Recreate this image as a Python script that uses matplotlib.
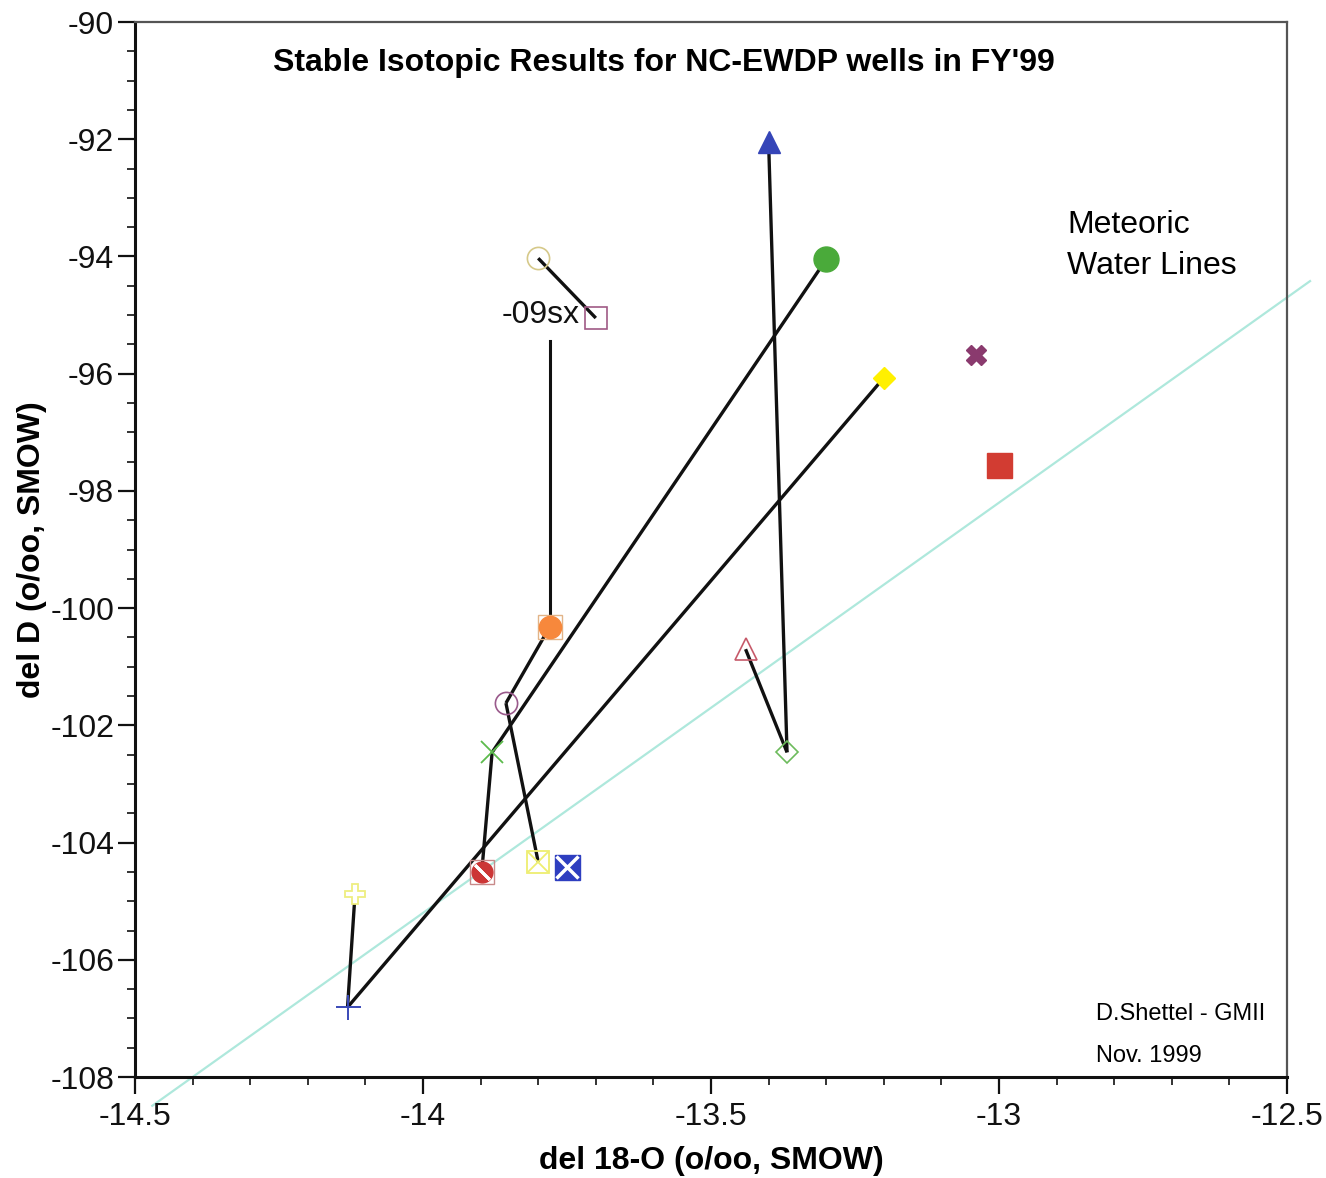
import numpy as np
import matplotlib
matplotlib.use("Agg")
import matplotlib.pyplot as plt

plt.rcParams["font.family"] = ["Liberation Sans", "DejaVu Sans"]
plt.rcParams["axes.unicode_minus"] = False

# ── Sample values (per mil, SMOW) ─────────────────────────────────────────────
d18o = [-13.40, -13.30, -13.80, -13.70, -13.20, -13.04, -13.00, -13.78,
        -13.44, -13.856, -13.368, -13.88, -13.898, -13.80, -13.75, -14.118, -14.131]
dD = [-92.05, -94.05, -94.03, -95.05, -96.07, -95.68, -97.56, -100.32,
      -100.70, -101.62, -102.46, -102.46, -104.50, -104.33, -104.42, -104.88, -106.81]

# pairs of samples joined by a tie line
links = [(2, 3), (7, 9), (1, 11), (11, 12), (9, 13), (16, 4), (15, 16), (0, 10), (8, 10)]

# meteoric water line: dD = slope * d18O + intercept
mwl_slope = 7.0
mwl_intercept = -7.2
mwl_x = [-14.47, -12.46]

sample_label = "-09sx"
label_pos = (-13.795, -95.0)
label_line_top = -95.45   # tie from the label down to sample 7

xticks = [-14.5, -14, -13.5, -13, -12.5]
xticklabels = ["-14.5", "-14", "-13.5", "-13", "-12.5"]
yticks = [-108, -106, -104, -102, -100, -98, -96, -94, -92, -90]

# ── Marker styles, one per sample ─────────────────────────────────────────────
styles = [
    dict(marker="^", ms=16, mfc="#3545b8", mec="#3545b8"),
    dict(marker="o", ms=18, mfc="#4aaa3a", mec="#4aaa3a"),
    dict(marker="o", ms=16, mfc="none", mec="#d6c98a", mew=1.2),
    dict(marker="s", ms=16, mfc="none", mec="#a05a85", mew=1.2),
    dict(marker="D", ms=11, mfc="#fff000", mec="#fff000"),
    dict(marker="X", ms=15, mfc="#8a3a6e", mec="#8a3a6e"),
    dict(marker="s", ms=18, mfc="#d23c32", mec="#d23c32"),
    dict(marker="o", ms=16, mfc="#f7883c", mec="#f7883c"),
    dict(marker="^", ms=16, mfc="none", mec="#c65a6a", mew=1.2),
    dict(marker="o", ms=16, mfc="none", mec="#9a5a8c", mew=1.2),
    dict(marker="D", ms=11, mfc="none", mec="#6cbb5c", mew=1.2),
    dict(marker="x", ms=16, mfc="none", mec="#5cbb4c", mew=1.3),
    dict(marker="o", ms=15, mfc="#cc3535", mec="#cc3535"),
    dict(marker="s", ms=16, mfc="none", mec="#eeee70", mew=1.3),
    dict(marker="s", ms=18, mfc="#2e3ec0", mec="#2e3ec0"),
    dict(marker="P", ms=15, mfc="white", mec="#eeee80", mew=1.3),
    dict(marker="+", ms=18, mfc="none", mec="#3a4ab8", mew=1.4),
]

# extra glyphs layered on top of (or under) some samples
overlays = [
    (7, dict(marker="s", ms=17, mfc="none", mec="#e2b488", mew=1.0), 3),
    (12, dict(marker="s", ms=17, mfc="none", mec="#c88a8a", mew=1.0), 3),
    (12, dict(marker=(2, 2, 45), ms=15, mfc="none", mec="white", mew=2.0), 6),
    (13, dict(marker="x", ms=14, mfc="none", mec="#eeee70", mew=1.3), 6),
    (14, dict(marker="x", ms=16, mfc="none", mec="white", mew=2.5), 6),
]

fig = plt.figure(figsize=(13.26, 11.78), dpi=100)
ax = fig.add_axes([0.1018, 0.0857, 0.8688, 0.8956])

# meteoric water line (runs a little past the frame)
mx = np.array(mwl_x)
ax.plot(mx, mwl_slope * mx + mwl_intercept, color="#aee8dc", lw=1.6,
        clip_on=False, zorder=1)

# tie lines
for a, b in links:
    ax.plot([d18o[a], d18o[b]], [dD[a], dD[b]], color="#111111", lw=2.4,
            solid_capstyle="butt", zorder=2)
ax.plot([d18o[7], d18o[7]], [label_line_top, dD[7]], color="#111111", lw=2.2, zorder=2)

for (i, st, z) in overlays:
    if z < 5:
        ax.plot(d18o[i], dD[i], linestyle="none", zorder=z, **st)
for i, st in enumerate(styles):
    ax.plot(d18o[i], dD[i], linestyle="none", zorder=4, **st)
for (i, st, z) in overlays:
    if z >= 5:
        ax.plot(d18o[i], dD[i], linestyle="none", zorder=z, **st)

ax.text(label_pos[0], label_pos[1], sample_label, fontsize=23, ha="center",
        va="center", color="#111111")

# ── Axes ──────────────────────────────────────────────────────────────────────
ax.set_xlim(-14.5, -12.5)
ax.set_ylim(-108, -90)
ax.set_xticks(xticks)
ax.set_xticklabels(xticklabels)
ax.set_yticks(yticks)
ax.set_xticks(np.arange(-14.5, -12.45, 0.1), minor=True)
ax.set_yticks(np.arange(-108, -89.9, 0.5), minor=True)
ax.tick_params(which="major", direction="out", length=12, width=1.6,
               labelsize=23, colors="#111111")
ax.tick_params(axis="x", which="major", pad=6)
ax.tick_params(axis="y", which="major", pad=3)
ax.tick_params(which="minor", direction="out", length=6, width=1.2, colors="#111111")
ax.tick_params(top=False, right=False, which="both")

for side in ["left", "bottom"]:
    ax.spines[side].set_linewidth(2.2)
    ax.spines[side].set_color("#111111")
for side in ["top", "right"]:
    ax.spines[side].set_linewidth(1.6)
    ax.spines[side].set_color("#555555")

ax.set_xlabel("del 18-O (o/oo, SMOW)", fontsize=23, fontweight="bold", labelpad=10)
ax.set_ylabel("del D (o/oo, SMOW)", fontsize=23, fontweight="bold", labelpad=2)

ax.text(0.459, 0.975, "Stable Isotopic Results for NC-EWDP wells in FY'99",
        transform=ax.transAxes, ha="center", va="top", fontsize=23, fontweight="bold")
ax.text(0.809, 0.788, "Meteoric\nWater Lines", transform=ax.transAxes,
        ha="left", va="center", fontsize=23, linespacing=1.5)
ax.text(0.834, 0.060, "D.Shettel - GMII", transform=ax.transAxes,
        ha="left", va="center", fontsize=17)
ax.text(0.834, 0.020, "Nov. 1999", transform=ax.transAxes,
        ha="left", va="center", fontsize=17)

fig.savefig("out.png", dpi=100)
